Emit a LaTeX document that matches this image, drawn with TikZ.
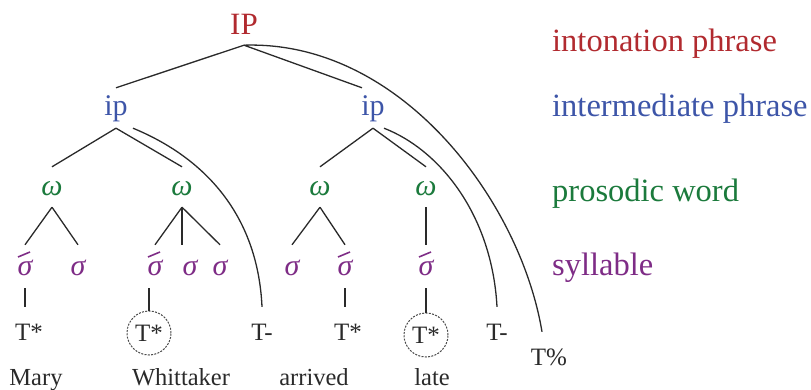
\documentclass[tikz,border=0pt]{standalone}
\usepackage{fontspec}
\setmainfont{Liberation Serif}
\newfontfamily\tms{Liberation Serif}
\usepackage{xcolor}
\definecolor{IPRed}{HTML}{B12A2F}
\definecolor{ipBlue}{HTML}{3D55A8}
\definecolor{wGreen}{HTML}{1B7A3C}
\definecolor{sPurple}{HTML}{7E2C86}
\definecolor{Ink}{HTML}{2A2A2A}
\newcommand{\fs}[1]{\tms\fontsize{#1}{#1}\selectfont}
\newcommand{\stressbar}[1]{\draw[bar] ([shift={(-7pt,18pt)}]#1.base) -- ++(12pt,5pt);}

\begin{document}
\begin{tikzpicture}[x=1pt,y=-1pt,
    lnk/.style={draw=Ink,line width=1.3pt},
    bar/.style={draw=sPurple,line width=1.6pt},
    IPn/.style={text=IPRed,font=\fs{31},inner sep=0pt,text depth=10pt,anchor=base},
    ipn/.style={text=ipBlue,font=\fs{30},inner sep=0pt,text height=28pt,text depth=12pt,anchor=base},
    wn/.style={text=wGreen,font=\fs{30}\itshape,inner sep=0pt,text height=29pt,text depth=11pt,anchor=base},
    sn/.style={text=sPurple,font=\fs{30}\itshape,inner sep=0pt,text height=30pt,text depth=13pt,anchor=base},
    tone/.style={text=Ink,font=\fs{25},inner sep=0pt,text height=33pt,anchor=base},
    ctone/.style={circle,draw=Ink!85,dash pattern=on 2pt off 1.3pt,line width=1pt,minimum size=44pt,
      inner sep=0pt,text=Ink,font=\fs{25}},
    wrd/.style={text=Ink,font=\fs{24.5},inner sep=0pt,anchor=base},
    lbl/.style={font=\fs{32.5},inner sep=0pt,anchor=base west}]
  \useasboundingbox (0,0) rectangle (811,390);

  % levels
  \node[IPn] (IP) at (244,35) {IP};
  \node[ipn] (ipL) at (116,116) {ip};
  \node[ipn] (ipR) at (373,116) {ip};

  \node[wn] (w1) at (52,196) {ω};
  \node[wn] (w2) at (182,196) {ω};
  \node[wn] (w3) at (320,196) {ω};
  \node[wn] (w4) at (426,196) {ω};

  \node[sn] (s1a) at (25,275) {σ};
  \node[sn] (s1b) at (78,275) {σ};
  \node[sn] (s2a) at (155,275) {σ};
  \node[sn] (s2b) at (190,275) {σ};
  \node[sn] (s2c) at (220,275) {σ};
  \node[sn] (s3a) at (292,275) {σ};
  \node[sn] (s3b) at (345,275) {σ};
  \node[sn] (s4a) at (426,275) {σ};
  \stressbar{s1a}
  \stressbar{s2a}
  \stressbar{s3b}
  \stressbar{s4a}

  % tones
  \node[tone] (t1) at (29,340) {T*};
  \node[ctone] (t2) at (149,333) {T*};
  \node[tone] (tm1) at (262,340) {T-};
  \node[tone] (t3) at (348,340) {T*};
  \node[ctone] (t4) at (426,335) {T*};
  \node[tone] (tm2) at (497,340) {T-};
  \node[tone] (tpc) at (549,365) {T\%};

  % words
  \node[wrd] (mary) at (36,385) {Mary};
  \node[wrd] (whit) at (181,385) {Whittaker};
  \node[wrd] (arr) at (314,385) {arrived};
  \node[wrd] (late) at (432,385) {late};

  % level names
  \node[lbl,text=IPRed] (labIP) at (552,52) {intonation phrase};
  \node[lbl,text=ipBlue] (labip) at (552,117) {intermediate phrase};
  \node[lbl,text=wGreen] (labw) at (552,202) {prosodic word};
  \node[lbl,text=sPurple] (labs) at (552,275) {syllable};

  % branches
  \draw[lnk] (IP.south) -- (ipL.north);
  \draw[lnk] (IP.south) -- ([xshift=-11pt]ipR.north);
  \draw[lnk] (ipL.south) -- (w1.north);
  \draw[lnk] (ipL.south) -- (w2.north);
  \draw[lnk] (ipR.south) -- (w3.north);
  \draw[lnk] (ipR.south) -- (w4.north);
  \draw[lnk] (w1.south) -- (s1a.north);
  \draw[lnk] (w1.south) -- (s1b.north);
  \draw[lnk] (w2.south) -- (s2a.north);
  \draw[lnk] (w2.south) -- (w2.south |- s2b.north);
  \draw[lnk] (w2.south) -- (s2c.north);
  \draw[lnk] (w3.south) -- (s3a.north);
  \draw[lnk] (w3.south) -- (s3b.north);
  \draw[lnk] (w4.south) -- (s4a.north);
  \draw[lnk] (s1a.south) -- (s1a.south |- t1.north);
  \draw[lnk] (t2.north) -- (t2.north |- s2a.south);
  \draw[lnk] (s3b.south) -- (s3b.south |- t3.north);
  \draw[lnk] (s4a.south) -- (t4.north);
  % edge tones
  \draw[lnk] ([xshift=17pt]ipL.south) .. controls (210,160) and (258,220) .. (tm1.north);
  \draw[lnk] ([xshift=11pt]ipR.south) .. controls (440,150) and (492,215) .. (tm2.north);
  \draw[lnk] (IP.south) .. controls (400,40) and (520,200) .. ([xshift=-7pt]tpc.north);
\end{tikzpicture}
\end{document}
